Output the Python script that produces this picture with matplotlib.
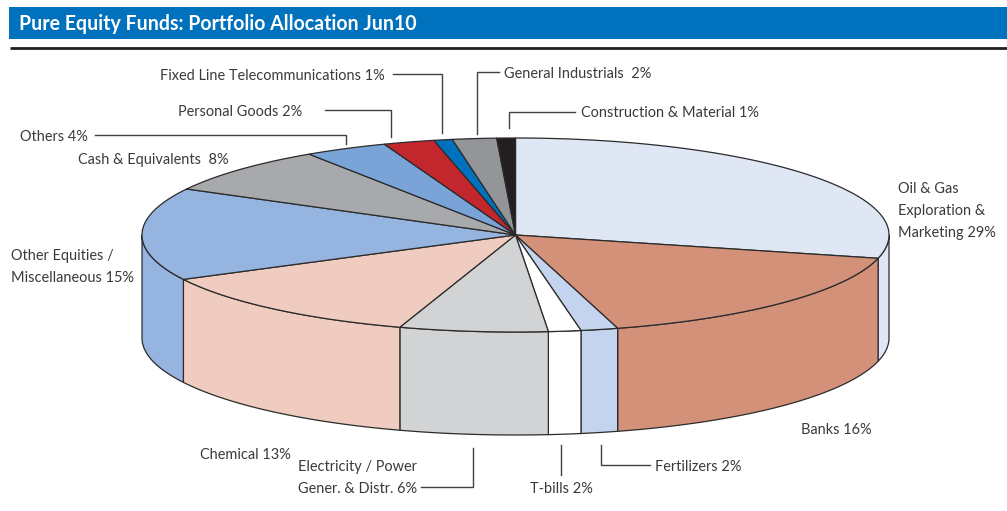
import numpy as np
import matplotlib
matplotlib.use("Agg")
import matplotlib.pyplot as plt

title = "Pure Equity Funds: Portfolio Allocation Jun10"
categories = ["Oil & Gas Exploration & Marketing", "Banks", "Fertilizers", "T-bills",
              "Electricity / Power Gener. & Distr.", "Chemical", "Other Equities / Miscellaneous",
              "Cash & Equivalents", "Others", "Personal Goods",
              "Fixed Line Telecommunications", "General Industrials", "Construction & Material"]
# slice sizes as drawn in the picture (the printed labels are rounded)
values = [28.8, 16.7, 1.6, 1.4, 6.4, 12.4, 15.4, 7.8, 3.6, 2.2, 0.8, 1.9, 0.8]
colors = ["#dfe6f4", "#d4917a", "#c5d4ee", "#ffffff", "#d1d3d4", "#efccbf", "#95b4df",
          "#a7a9ac", "#7aa3d8", "#c1272d", "#0071bc", "#939598", "#231f20"]
labels = [
    ("Oil & Gas\nExploration &\nMarketing 29%", 898, 211),
    ("Banks 16%", 801, 430),
    ("Fertilizers 2%", 655, 467),
    ("T-bills 2%", 530, 489),
    ("Electricity / Power\nGener. & Distr. 6%", 298, 478),
    ("Chemical 13%", 200, 455),
    ("Other Equities /\nMiscellaneous 15%", 11, 267),
    ("Cash & Equivalents  8%", 78, 160),
    ("Others 4%", 20, 137),
    ("Personal Goods 2%", 178, 112),
    ("Fixed Line Telecommunications 1%", 160, 76),
    ("General Industrials  2%", 504, 74),
    ("Construction & Material 1%", 581, 113),
]
leaders = [
    [(393, 74), (442, 74), (442, 133)],
    [(325, 110), (391, 110), (391, 137)],
    [(95, 135), (346, 135), (346, 144)],
    [(499, 72), (477, 72), (477, 134)],
    [(575, 112), (509, 112), (509, 128)],
    [(421, 487), (473, 487), (473, 448)],
    [(561, 445), (561, 475)],
    [(601, 445), (601, 465), (650, 465)],
]

CX, CY, RX, RY, DEPTH = 515.5, 235, 373.5, 97, 103
EDGE = "#2b2b2b"
FONT = ["Lato", "DejaVu Sans"]
TXT = "#3a3a3a"

fig = plt.figure(figsize=(10.07, 5.11), dpi=100)
ax = fig.add_axes([0, 0, 1, 1])
ax.set_xlim(0, 1007)
ax.set_ylim(511, 0)
ax.axis("off")

ax.fill([9, 1007, 1007, 9], [7, 7, 39, 39], color="#0071bc", lw=0)
ax.plot([10, 1007], [48, 48], color="#231f20", lw=2, solid_capstyle="butt")
ax.text(19, 24, title, color="white", fontsize=14.05, fontweight="bold", family=FONT,
        va="center", ha="left")

fractions = np.array(values) / sum(values)
edges = np.concatenate([[0], np.cumsum(fractions)]) * 2 * np.pi


def rim(a, b):
    t = np.linspace(a, b, max(3, int((b - a) * 120)))
    return CX + RX * np.sin(t), CY - RY * np.cos(t)


# side walls: only the part of each slice on the front half (90deg..270deg clockwise from top)
for i, col in enumerate(colors):
    a, b = max(edges[i], np.pi / 2), min(edges[i + 1], 3 * np.pi / 2)
    if b <= a:
        continue
    x, y = rim(a, b)
    ax.fill(np.r_[x, x[::-1]], np.r_[y, y[::-1] + DEPTH], facecolor=col, edgecolor=EDGE,
            lw=0.9, joinstyle="round", zorder=2)

# top faces
for i, col in enumerate(colors):
    x, y = rim(edges[i], edges[i + 1])
    ax.fill(np.r_[CX, x], np.r_[CY, y], facecolor=col, edgecolor=EDGE, lw=0.9,
            joinstyle="round", zorder=3)

for pts in leaders:
    xs, ys = zip(*pts)
    ax.plot(xs, ys, color="#404040", lw=1.0, solid_joinstyle="miter", zorder=4)

for text, x, y in labels:
    ax.text(x, y, text, fontsize=10.45, color=TXT, family=FONT, ha="left", va="center",
            linespacing=1.77, zorder=5)

fig.savefig("out.png", dpi=100)
